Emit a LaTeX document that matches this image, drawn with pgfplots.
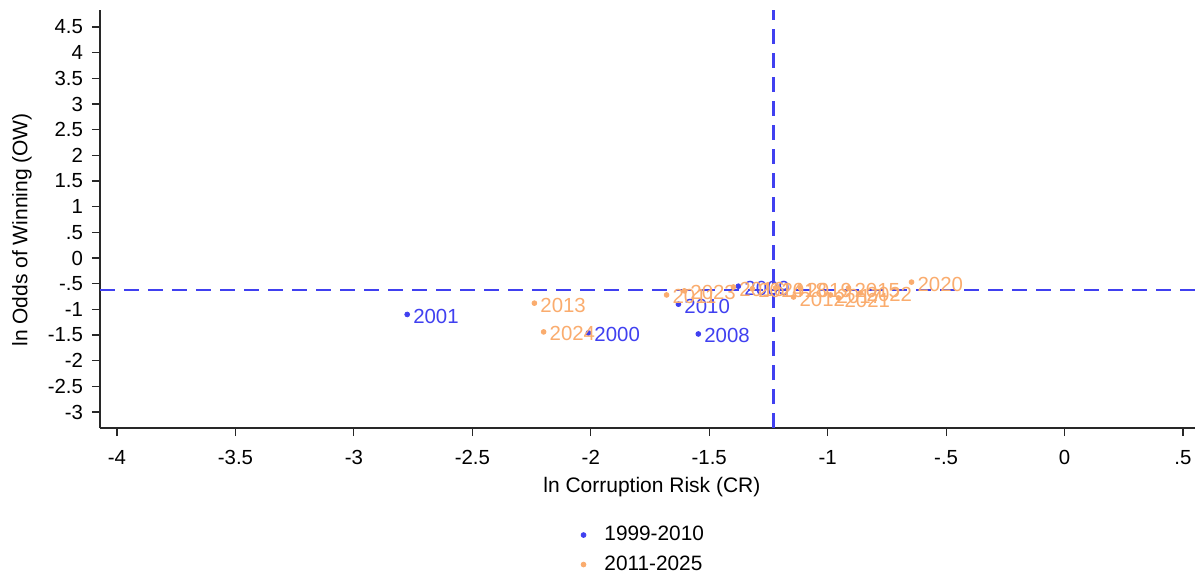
\documentclass[border=0pt]{standalone}
\usepackage{pgfplots}
\pgfplotsset{compat=1.18}
\usepackage{pgfplotstable}
\usepackage{fontspec}
\setmainfont{Liberation Sans}
\definecolor{sblue}{RGB}{64,64,240}
\definecolor{sorange}{RGB}{250,172,110}
\definecolor{axgray}{RGB}{40,40,40}

\pgfplotstableread{
x y lab
-2.010 -1.46 2000
-2.775 -1.10 2001
-1.546 -1.48 2008
-1.377 -0.55 2009
-1.630 -0.90 2010
}\bluedata

\pgfplotstableread{
x y lab
-1.680 -0.72 2011
-1.144 -0.76 2012
-2.238 -0.88 2013
-1.318 -0.60 2014
-0.912 -0.585 2015
-1.398 -0.565 2016
-0.988 -0.72 2017
-1.220 -0.585 2018
-1.115 -0.585 2019
-0.646 -0.47 2020
-0.954 -0.78 2021
-0.861 -0.68 2022
-1.605 -0.64 2023
-2.199 -1.44 2024
}\orangedata

\begin{document}
\begin{tikzpicture}
\begin{axis}[
  scale only axis,
  width=547.5pt, height=209pt,
  at={(0,0)}, anchor=south west,
  xmin=-4.0718, xmax=0.5507,
  ymin=-3.312, ymax=4.831,
  axis x line*=bottom, axis y line*=left,
  axis line style={axgray, line width=0.6pt, -},
  tick style={axgray, line width=0.6pt},
  tick align=outside,
  major tick length=4pt,
  xtick={-4,-3.5,-3,-2.5,-2,-1.5,-1,-0.5,0,0.5},
  xticklabels={-4,-3.5,-3,-2.5,-2,-1.5,-1,-.5,0,.5},
  ytick={-3,-2.5,-2,-1.5,-1,-0.5,0,0.5,1,1.5,2,2.5,3,3.5,4,4.5},
  yticklabels={-3,-2.5,-2,-1.5,-1,-.5,0,.5,1,1.5,2,2.5,3,3.5,4,4.5},
  tick label style={font=\fontsize{10.2}{11}\selectfont, black},
  xticklabel style={yshift=-3.5pt},
  yticklabel style={xshift=-1pt},
  xlabel={ln Corruption Risk (CR)},
  ylabel={ln Odds of Winning (OW)},
  label style={font=\fontsize{10.5}{12}\selectfont},
  xlabel style={at={(axis description cs:0.504,-0.141)}, anchor=center},
  ylabel style={at={(axis description cs:0,0.474)}, anchor=center, yshift=39pt},
  legend style={draw=none, at={(0.493,-0.215)}, anchor=north,
    font=\fontsize{10.4}{12}\selectfont, row sep=2pt,
    legend cell align=left},
  legend image code/.code={\path (-0.2cm,0) (0.29cm,0);\fill[#1] (0cm,0cm) circle (1.2pt);},
  clip=false,
]
\addplot[only marks, mark=*, mark size=1.2pt, color=sblue,
  point meta=explicit symbolic,
  nodes near coords,
  nodes near coords style={anchor=west, xshift=-0.5pt, yshift=-1pt, text=sblue, font=\fontsize{10.2}{11}\selectfont}]
  table[x=x, y=y, meta=lab] {\bluedata};
\addlegendentry{1999-2010}
\addplot[only marks, mark=*, mark size=1.2pt, color=sorange,
  point meta=explicit symbolic,
  nodes near coords,
  nodes near coords style={anchor=west, xshift=-0.5pt, yshift=-1pt, text=sorange, font=\fontsize{10.2}{11}\selectfont}]
  table[x=x, y=y, meta=lab] {\orangedata};
\addlegendentry{2011-2025}
\addplot[sblue, line width=1.1pt, dash pattern=on 7.5pt off 4.5pt, forget plot]
  coordinates {(-1.229,-3.312) (-1.229,4.831)};
\addplot[sblue, line width=1.1pt, dash pattern=on 7.5pt off 4.5pt, forget plot]
  coordinates {(-4.0718,-0.623) (0.5507,-0.623)};
\end{axis}
\pgfresetboundingbox
\path (-50pt,-72.5pt) rectangle (549pt,214pt);
\end{tikzpicture}
\end{document}
